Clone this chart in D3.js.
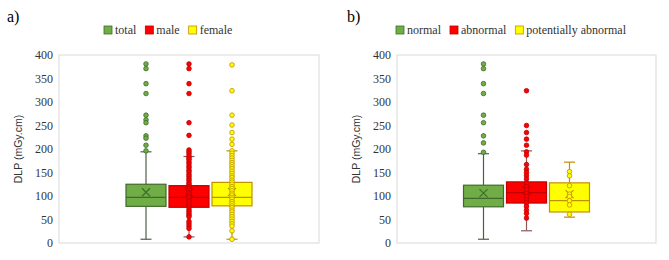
<!DOCTYPE html>
<html>
<head>
<meta charset="utf-8">
<script src="https://cdn.jsdelivr.net/npm/d3@7"></script>
<style>
  body { margin: 0; background: #fff; }
  svg { display: block; }
</style>
</head>
<body>
<svg id="chart"></svg>
<script>
// ---- data ----
const yTicks = [0, 50, 100, 150, 200, 250, 300, 350, 400];

// panel a)
const catsA = ["total", "male", "female"];
const minA = [8, 13, 8];
const q1A = [78, 76, 79];
const medA = [97, 97, 97];
const q3A = [125, 122, 129];
const maxA = [194, 184, 196];
const meanA = [108, 107, 109];
const outA = [
  [381, 371, 339, 318, 272, 262, 256, 228, 223, 208, 196],
  [381, 371, 339, 318, 256, 229],
  [379, 324, 272, 251, 235, 221, 210]
];
const innerA = [
  [],
  [198, 194, 190, 185, 181, 178, 173, 169, 164, 160, 155, 151, 146, 142, 137, 133, 128, 125, 120, 116, 112, 107, 104, 99, 96, 91, 88, 83, 79, 76, 71, 67, 63, 59, 56, 46, 41, 36, 31, 13],
  [196, 191, 186, 181, 176, 171, 167, 162, 158, 153, 148, 143, 139, 134, 130, 125, 120, 116, 111, 106, 102, 97, 93, 88, 84, 79, 75, 70, 66, 61, 56, 51, 46, 41, 36, 26, 8]
];

// panel b)
const catsB = ["normal", "abnormal", "potentially abnormal"];
const minB = [8, 26, 55];
const q1B = [77, 85, 66];
const medB = [95, 107, 90];
const q3B = [123, 130, 128];
const maxB = [190, 196, 172];
const meanB = [106, 112, 104];
const outB = [
  [381, 371, 339, 318, 272, 256, 228, 213, 193],
  [324, 250, 235, 221, 208],
  []
];
const innerB = [
  [],
  [194, 187, 167, 157, 150, 143, 136, 127, 120, 113, 106, 99, 92, 85, 78, 70, 63, 53],
  [152, 143, 122, 104, 99, 90, 81, 61]
];

const fills = ["#70ad47", "#ff0000", "#ffff00"];
const strokes = ["#3f6b2a", "#c00000", "#bf9000"];
const whiskerCols = ["#4f5f45", "#8c5a5a", "#bf9000"];

// ---- layout ----
const W = 669, H = 260;
const svg = d3.select("#chart").attr("width", W).attr("height", H);
const serif = "'Liberation Serif', 'Times New Roman', serif";

const panels = [
  { tag: "a)", tagX: 7, left: 59, right: 319, legendX: 104,
    cats: catsA, min: minA, q1: q1A, med: medA, q3: q3A, max: maxA, mean: meanA, out: outA, inner: innerA },
  { tag: "b)", tagX: 347, left: 397, right: 656, legendX: 396,
    cats: catsB, min: minB, q1: q1B, med: medB, q3: q3B, max: maxB, mean: meanB, out: outB, inner: innerB }
];

const plotTop = 55, plotBottom = 243;
const y = d3.scaleLinear().domain([0, 400]).range([plotBottom, plotTop]);

panels.forEach(p => {
  const g = svg.append("g");

  g.append("text")
    .attr("x", p.tagX).attr("y", 22)
    .style("font-family", serif).style("font-size", "16px")
    .attr("fill", "#000")
    .text(p.tag);

  // plot area border
  g.append("rect")
    .attr("x", p.left).attr("y", plotTop)
    .attr("width", p.right - p.left).attr("height", plotBottom - plotTop)
    .attr("fill", "none").attr("stroke", "#d9d9d9").attr("stroke-width", 1);

  // y axis
  const yAxis = d3.axisLeft(y).tickValues(yTicks).tickSize(0).tickPadding(6);
  const ax = g.append("g").attr("transform", `translate(${p.left},0)`).call(yAxis);
  ax.select(".domain").remove();
  ax.selectAll("text")
    .style("font-family", serif).style("font-size", "12px").attr("fill", "#333");

  g.append("text")
    .attr("transform", `translate(${p.left - 37},${(plotTop + plotBottom) / 2}) rotate(-90)`)
    .attr("text-anchor", "middle")
    .style("font-family", "'Liberation Sans', Arial, sans-serif").style("font-size", "10.5px")
    .attr("fill", "#333")
    .text("DLP (mGy.cm)");

  // series positions
  const c = (p.left + p.right) / 2;
  const x = d3.scaleBand().domain(p.cats)
    .range([c - 64.5, c + 64.5])
    .paddingInner(0.07).paddingOuter(0.035);
  const bw = x.bandwidth();

  p.cats.forEach((cat, i) => {
    const cx = x(cat) + bw / 2;
    const s = g.append("g");
    // whiskers
    s.append("line")
      .attr("x1", cx).attr("x2", cx)
      .attr("y1", y(p.max[i])).attr("y2", y(p.q3[i]))
      .attr("stroke", whiskerCols[i]).attr("stroke-width", 1.2);
    s.append("line")
      .attr("x1", cx).attr("x2", cx)
      .attr("y1", y(p.q1[i])).attr("y2", y(p.min[i]))
      .attr("stroke", whiskerCols[i]).attr("stroke-width", 1.2);
    [p.max[i], p.min[i]].forEach(v => {
      s.append("line")
        .attr("x1", cx - 5.5).attr("x2", cx + 5.5)
        .attr("y1", y(v)).attr("y2", y(v))
        .attr("stroke", whiskerCols[i]).attr("stroke-width", 1.2);
    });
    // box
    s.append("rect")
      .attr("x", x(cat)).attr("y", y(p.q3[i]))
      .attr("width", bw).attr("height", y(p.q1[i]) - y(p.q3[i]))
      .attr("fill", fills[i]).attr("stroke", strokes[i]).attr("stroke-width", 1.2);
    s.append("line")
      .attr("x1", x(cat)).attr("x2", x(cat) + bw)
      .attr("y1", y(p.med[i])).attr("y2", y(p.med[i]))
      .attr("stroke", strokes[i]).attr("stroke-width", 1.2);
    // mean marker
    const my = y(p.mean[i]);
    s.append("path")
      .attr("d", `M${cx - 4},${my - 4}L${cx + 4},${my + 4}M${cx - 4},${my + 4}L${cx + 4},${my - 4}`)
      .attr("stroke", strokes[i]).attr("stroke-width", 1.1).attr("fill", "none");
    // points
    s.selectAll("circle")
      .data(p.inner[i].concat(p.out[i]))
      .join("circle")
      .attr("cx", cx).attr("cy", d => y(d))
      .attr("r", 2.3)
      .attr("fill", fills[i])
      .attr("stroke", strokes[i]).attr("stroke-width", 0.8);
  });

  // legend
  const leg = g.append("g").attr("transform", `translate(${p.legendX},30)`);
  let lx = 0;
  p.cats.forEach((cat, i) => {
    leg.append("rect")
      .attr("x", lx).attr("y", -4)
      .attr("width", 8).attr("height", 8)
      .attr("fill", fills[i]).attr("stroke", strokes[i]).attr("stroke-width", 0.8);
    const t = leg.append("text")
      .attr("x", lx + 11).attr("y", 4)
      .style("font-family", serif).style("font-size", "12px")
      .attr("fill", "#333")
      .text(cat);
    lx += 11 + t.node().getComputedTextLength() + 9;
  });
});
</script>
</body>
</html>
